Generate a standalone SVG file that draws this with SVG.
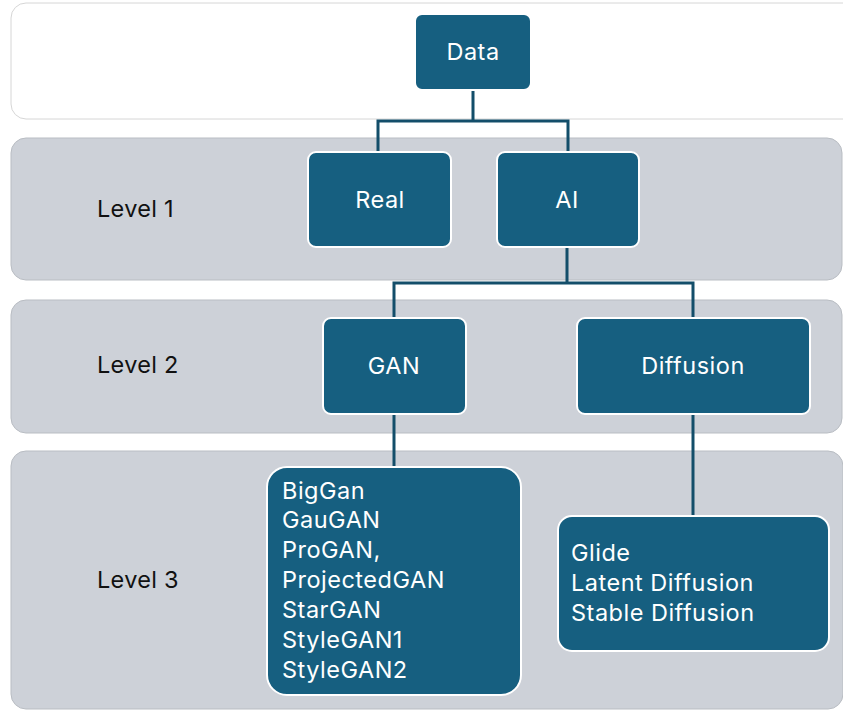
<svg xmlns="http://www.w3.org/2000/svg" width="843" height="710" viewBox="0 0 843 710">
  <style>
    .band { fill: #CDD1D8; stroke: #B9BDC3; stroke-width: 1; }
    .band-top { fill: #FFFFFF; stroke: #D6D6D6; stroke-width: 1; }
    .node rect { fill: #165F80; stroke: #FFFFFF; stroke-width: 2; }
    .label { font-family: Inter, "Open Sans", "Liberation Sans", sans-serif; font-size: 23.5px; letter-spacing: 0.5px; fill: #FFFFFF; }
    .level { font-family: Inter, "Open Sans", "Liberation Sans", sans-serif; font-size: 23.5px; letter-spacing: 0.3px; fill: #111111; }
    .conn { fill: none; stroke: #134E6A; stroke-width: 3; }
  </style>
  <rect width="843" height="710" fill="#FFFFFF"/>

  <!-- level bands -->
  <g id="bands">
    <rect class="band-top" x="11" y="3" width="850" height="116" rx="15"/>
    <rect class="band" x="11" y="138" width="831" height="142" rx="15"/>
    <rect class="band" x="11" y="300" width="831" height="133" rx="15"/>
    <rect class="band" x="11" y="451" width="832" height="258" rx="15"/>
  </g>

  <g id="level-labels">
    <text class="level" x="97" y="217">Level 1</text>
    <text class="level" x="97" y="373">Level 2</text>
    <text class="level" x="97" y="588">Level 3</text>
  </g>

  <!-- connectors -->
  <g id="connectors">
    <path class="conn" d="M473 90 V121 M378 152 V121 H568 V152"/>
    <path class="conn" d="M567 247 V283 M394 318 V283 H693 V318"/>
    <path class="conn" d="M394 414 V467"/>
    <path class="conn" d="M693 414 V516"/>
  </g>

  <g id="node-data" class="node">
    <rect x="415" y="14" width="116" height="76" rx="7"/>
    <text class="label" x="473" y="60" text-anchor="middle">Data</text>
  </g>

  <g id="node-real" class="node">
    <rect x="308" y="152" width="143" height="95" rx="8"/>
    <text class="label" x="380" y="208" text-anchor="middle">Real</text>
  </g>

  <g id="node-ai" class="node">
    <rect x="497" y="152" width="142" height="95" rx="8"/>
    <text class="label" x="567" y="208" text-anchor="middle">AI</text>
  </g>

  <g id="node-gan" class="node">
    <rect x="323" y="318" width="143" height="96" rx="8"/>
    <text class="label" x="394" y="374" text-anchor="middle">GAN</text>
  </g>

  <g id="node-diffusion" class="node">
    <rect x="577" y="318" width="233" height="96" rx="8"/>
    <text class="label" x="693" y="374" text-anchor="middle">Diffusion</text>
  </g>

  <g id="node-gan-models" class="node">
    <rect x="267" y="467" width="254" height="228" rx="20"/>
    <text class="label" x="282" y="499">BigGan</text>
    <text class="label" x="282" y="528">GauGAN</text>
    <text class="label" x="282" y="558">ProGAN,</text>
    <text class="label" x="282" y="588">ProjectedGAN</text>
    <text class="label" x="282" y="618">StarGAN</text>
    <text class="label" x="282" y="648">StyleGAN1</text>
    <text class="label" x="282" y="678">StyleGAN2</text>
  </g>

  <g id="node-diffusion-models" class="node">
    <rect x="558" y="516" width="271" height="135" rx="14"/>
    <text class="label" x="571" y="561">Glide</text>
    <text class="label" x="571" y="591">Latent Diffusion</text>
    <text class="label" x="571" y="621">Stable Diffusion</text>
  </g>
</svg>
